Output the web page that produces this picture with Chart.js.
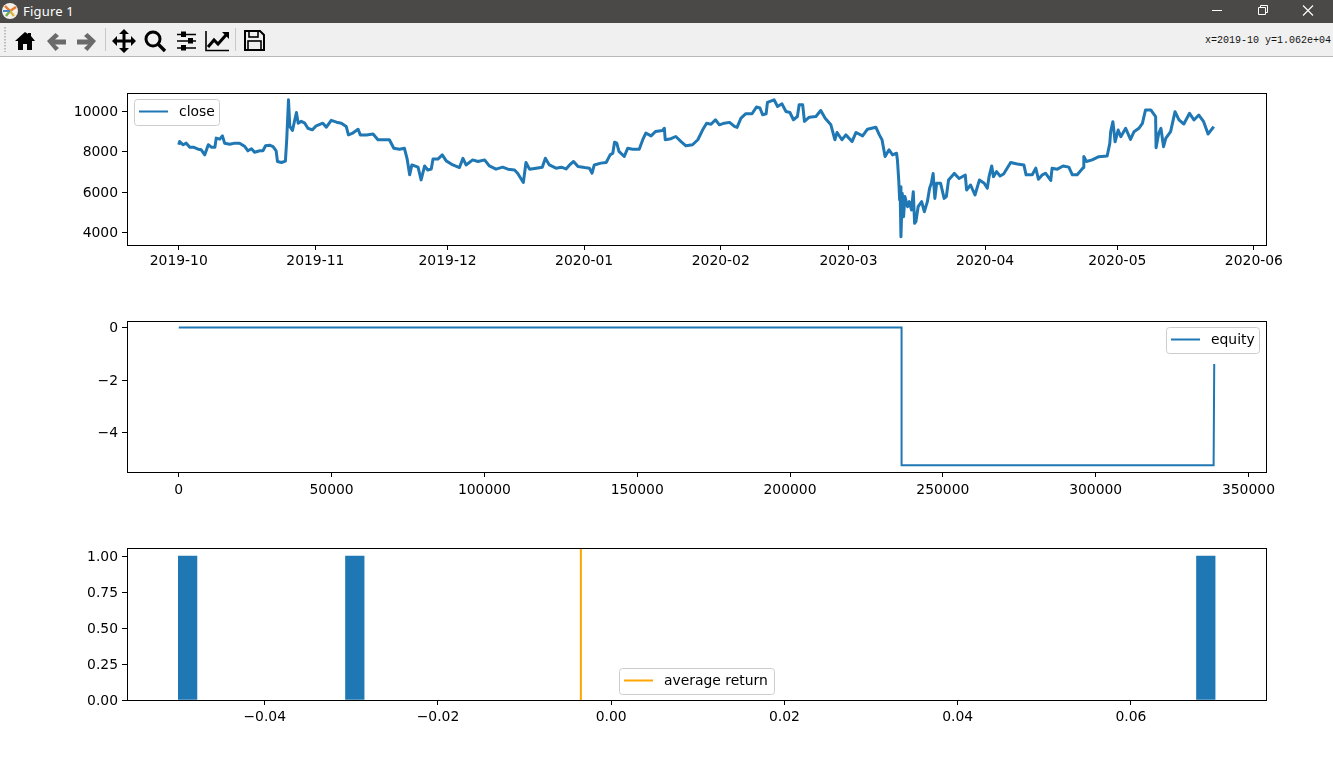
<!DOCTYPE html>
<html><head><meta charset="utf-8"><title>Figure 1</title>
<script src="https://cdn.jsdelivr.net/npm/chart.js@4"></script>
<style>
html,body{margin:0;padding:0;background:#fff;width:1333px;height:768px;overflow:hidden;font-family:"DejaVu Sans",sans-serif}
#title{position:absolute;left:0;top:0;width:1333px;height:23px;background:#4a4948;color:#fff}
#title span{position:absolute;left:23px;top:3px;font:13px/17px "Noto Sans",sans-serif;letter-spacing:.2px}
#tool{position:absolute;left:0;top:23px;width:1333px;height:33px;background:#f0f0f0;border-bottom:1px solid #b9b9b9;box-sizing:content-box}
#coord{position:absolute;right:2px;top:12px;font:10px/12px "Liberation Mono",monospace;color:#111;white-space:pre}
svg{position:absolute;overflow:visible}
canvas{position:absolute;left:0;display:block}
</style></head><body>
<div id="title"><span>Figure 1</span>
<svg style="left:0;top:0" width="1333" height="23">
<circle cx="10" cy="11" r="8" fill="#f4f1ea"/><path d="M10 11L5 6M10 11L16 7" stroke="#e8792b" stroke-width="2.4"/><path d="M10 11L6 16" stroke="#6fae4b" stroke-width="2.4"/><path d="M10 11L14 16" stroke="#d9b53a" stroke-width="2.4"/><path d="M10 11L3 11" stroke="#4a86c5" stroke-width="2"/>
<path d="M1212 10.5H1222" stroke="#fff" fill="none"/>
<path d="M1258.5 7.5h7v7h-7zM1260.5 7.5v-2h7v7h-2" stroke="#fff" fill="none"/>
<path d="M1303 5.5l10 10M1313 5.5l-10 10" stroke="#fff" fill="none" stroke-width="1.1"/>
</svg></div>
<div id="tool"><div id="coord">x=2019-10 y=1.062e+04</div>
<svg style="left:0;top:0" width="1333" height="33">
<path d="M5 4v25" stroke="#bbb" stroke-width="2" stroke-dasharray="1.5 1.5" fill="none"/>
<path d="M105.500 5v23M235.500 5v23" stroke="#c8c8c8" fill="none"/>
<path d="M25 9L15 18h3V27h5v-6h4v6h5V18h3L31 13V10h-3v1z" fill="#000"/>
<path d="M47 18l8.500-8 3.500 3-4 3.500h11v5H55l4 3.500-3.500 3z" fill="#6a6a6a"/>
<path d="M96 18l-8.500-8-3.500 3 4 3.500H77v5h11l-4 3.500 3.500 3z" fill="#6a6a6a"/>
<path d="M124 6l5 5h-3.500v5.500H131V13l5 5-5 5v-3.500h-5.500V25h3.500l-5 5-5-5h3.500v-5.500H117V23l-5-5 5-5v3.500h5.500V11H119z" fill="#000"/>
<circle cx="153" cy="16" r="7" fill="none" stroke="#000" stroke-width="3"/><path d="M158 21l7 7" stroke="#000" stroke-width="3.400" fill="none"/>
<path d="M177 11.500h19M177 18h19M177 25h19" stroke="#000" stroke-width="1.600" fill="none"/><rect x="181" y="8.500" width="5" height="5.500" fill="#000"/><rect x="188" y="15" width="5" height="5.500" fill="#000"/><rect x="181" y="22" width="5" height="5.500" fill="#000"/>
<path d="M206 8V27.500H229" stroke="#000" stroke-width="1.600" fill="none"/><path d="M208 24l6-7 4 4 8-9" stroke="#000" stroke-width="3" fill="none"/><path d="M222 9h7v7z" fill="#000"/>
<path d="M245 8h15l4 4v15h-19z" fill="none" stroke="#000" stroke-width="2"/><rect x="249" y="8" width="9" height="6" fill="none" stroke="#000" stroke-width="1.600"/><rect x="248" y="18" width="13" height="9" fill="none" stroke="#000" stroke-width="1.600"/>
</svg></div>
<canvas id="c1" width="1333" height="220" style="top:60px"></canvas>
<canvas id="c2" width="1333" height="220" style="top:290px"></canvas>
<canvas id="c3" width="1333" height="220" style="top:517px"></canvas>
<script>
// --- close price (days since 2019-10-01) ---
const closeDays=[0,0.2,1,1.7,2.5,3.3,4.4,5.1,5.9,6.7,7.4,8.2,8.5,9.3,9.9,10.4,11.6,12.7,13.8,15,15.7,16.5,17.2,18.4,19.1,19.7,20.6,21.4,22.1,22.4,23.3,24.2,24.5,24.9,25.2,25.8,26.7,27.1,27.8,28.6,29.3,30.3,31.2,32.7,33.5,34.6,35.8,36.9,38,38.5,39.5,40.7,41.2,42.6,44.1,45.2,46.3,47.8,48.8,50.1,51.2,51.8,52.4,52.9,54.3,55,55.8,56.5,57.3,57.7,58.8,59.8,60.7,62.2,63.7,64.5,65.2,66.7,67.9,69.4,70.5,72,73.5,74.7,76.2,76.9,78.2,78.8,79.6,81.1,82.5,83.2,84.1,85.6,86.8,87.9,
88.7,89.6,90.6,92.1,93.2,93.8,94.3,95.8,97,97.9,98.5,98.9,99.4,99.9,101.1,101.9,103,104.5,105.3,106,107.2,108.2,109.8,110.2,110.4,111.7,112.8,114,115.1,116.6,117.8,118.9,119.8,120.8,121.8,122.7,123.8,125,126.1,126.7,127.6,128.7,130.1,131.1,131.9,132.5,133.3,133.6,135.1,135.9,136.9,137.8,138.7,139.5,140.4,140.8,141.6,142,143.1,144.6,145.7,146.7,148,148.9,149.4,150.5,151.4,152.8,153.7,155.2,156.3,158.2,159,159.6,160.3,161.2,162,162.9,
163.1,163.4,163.6,163.7,163.9,164.2,164.5,164.8,165.4,165.8,166.3,166.7,167,167.3,167.8,168.6,169.2,169.9,170.4,170.8,171.2,171.6,172,172.9,173.7,174.2,174.7,176,177.1,178.5,178.8,179.7,180.7,181.7,182.8,183.5,183.9,184.5,184.9,185.6,186.4,187.2,
188.8,190.3,191.8,192.3,193.7,194.5,195.1,196,196.7,197.9,198.2,199.4,200.7,202,202.8,203.9,205.3,205.4,206,207.3,208.8,
210.7,211.3,211.5,212,212.5,213.2,213.8,214.9,216,216.8,217.9,218.7,219.4,220.6,221.7,221.8,222.4,222.9,223.5,224,225.1,226.1,227,228.1,229.4,230.4,231.5,232.6,233.6,234.9];
const closeValues=[8350,8510,8350,8430,8230,8230,8130,8100,7850,8350,8230,8230,8680,8630,8790,8430,8380,8430,8430,8260,8050,8150,7980,8050,8050,8300,8330,8260,8050,7520,7470,7540,8600,10580,9260,9060,9950,9420,9510,9420,9170,9090,9290,9420,9220,9560,9470,9420,9260,8840,8930,9120,8840,8840,8880,8600,8600,8600,8180,8130,8180,7680,6860,7350,7240,6610,7300,7100,7150,7640,7640,7850,7550,7350,7220,7680,7350,7600,7520,7600,7300,7140,7240,7140,7100,6940,6480,7470,7140,7190,7240,7680,7350,7190,7240,7150,
7350,7520,7270,7220,7190,6940,7350,7440,7470,7850,7930,8480,8430,8020,7770,8180,8130,8130,8600,8930,8790,9010,9060,9170,8600,8650,8760,8510,8300,8350,8600,9090,9420,9370,9590,9340,9420,9460,9260,9210,9670,9890,9890,10220,10170,9840,9890,10450,10580,10250,10380,10000,9950,9590,9750,10330,10330,9510,9720,9750,10050,9670,9340,8600,8960,8600,8840,8510,8960,8790,9120,9220,8840,8600,7770,8100,7850,7930,
7595,6600,5610,6270,3790,5940,4785,5780,5280,5530,5115,6025,4455,4540,5280,5530,5030,5530,6190,6440,6930,5690,6440,6440,5690,5780,6600,6930,6680,6850,6110,6355,5860,6600,6440,6190,6770,7300,6770,7020,6800,6900,
7470,7400,7350,6860,6860,7190,6640,6860,6940,6580,7190,7140,7300,7240,6860,6860,7220,7770,7520,7600,7760,
7790,8420,9000,9495,8500,9080,8750,9165,8620,9000,9165,9410,10075,10075,9745,8205,8915,9165,8255,8670,9000,9990,9580,9380,9910,9580,9825,9495,8885,9250];
const monthDays=[0,31,61,92,123,152,183,213,244];
const monthLabels=["2019-10","2019-11","2019-12","2020-01","2020-02","2020-03","2020-04","2020-05","2020-06"];
const closeYTicks=[4000,6000,8000,10000];
const closeYLabels=["4000","6000","8000","10000"];
// --- equity curve ---
const equityX=[0,236500,236500,338600,338800];
const equityY=[0,0,-5.25,-5.25,-1.39];
const equityXTicks=[0,50000,100000,150000,200000,250000,300000,350000];
const equityXLabels=["0","50000","100000","150000","200000","250000","300000","350000"];
const equityYTicks=[-4,-2,0];
const equityYLabels=["\u22124","\u22122","0"];
// --- return histogram ---
const binCenters=[-0.0489,-0.0296,0.06865];
const binCounts=[1,1,1];
const averageReturn=-0.0035;
const returnXTicks=[-0.04,-0.02,0,0.02,0.04,0.06];
const returnXLabels=["\u22120.04","\u22120.02","0.00","0.02","0.04","0.06"];
const returnYTicks=[0,0.25,0.5,0.75,1];
const returnYLabels=["0.00","0.25","0.50","0.75","1.00"];

const BLUE="#1f77b4",ORANGE="orange",FONT='"DejaVu Sans"',FS=13.9;
Chart.defaults.font.family=FONT;Chart.defaults.font.size=FS;Chart.defaults.color="#000";Chart.defaults.animation=false;

function axis(min,max,vals,labels,fit,pad,shift){
  return {type:"linear",min,max,offset:false,
    border:{display:false},
    grid:{display:true,offset:false,drawOnChartArea:false,drawTicks:true,tickLength:5,tickColor:"#000",tickWidth:1},
    afterBuildTicks(s){s.ticks=vals.map(v=>({value:v}));},
    afterFit:fit,
    ticks:{autoSkip:false,maxRotation:0,minRotation:0,padding:pad,labelOffset:shift||0,color:"#000",font:{family:FONT,size:FS},
      callback(v){const i=vals.indexOf(v);return i<0?"":labels[i];}}};
}
function frame(){return {id:"frame",afterDatasetsDraw(c){const a=c.chartArea,x=c.ctx;x.save();x.strokeStyle="#000";x.lineWidth=1;
  x.strokeRect(Math.round(a.left)+.5,Math.round(a.top)+.5,Math.round(a.right-a.left),Math.round(a.bottom-a.top));x.restore();}};}
function legendBox(ds,left,top,w){return {id:"legendBox",afterDraw(c){const x=c.ctx,d=c.data.datasets[ds];x.save();
  x.beginPath();x.roundRect(left+.5,top+.5,w,26,3);x.fillStyle="rgba(255,255,255,.8)";x.fill();x.strokeStyle="#ccc";x.lineWidth=1;x.stroke();
  x.beginPath();x.moveTo(left+5,top+12.5);x.lineTo(left+34,top+12.5);x.strokeStyle=d.borderColor;x.lineWidth=2;x.stroke();
  x.fillStyle="#000";x.font=FS+"px "+FONT;x.textBaseline="middle";x.textAlign="left";x.fillText(d.label,left+45,top+13);x.restore();}};}
function base(top,scales){return {responsive:false,animation:false,events:[],
  layout:{padding:{left:0,right:1333-1266,top,bottom:0}},
  plugins:{legend:{display:false},tooltip:{enabled:false}},scales};}
const wLeft=s=>{s.width=127;};
const hB=h=>s=>{s.height=h;};

new Chart(document.getElementById("c1"),{type:"line",
  data:{datasets:[{label:"close",data:closeDays.map((d,i)=>({x:d,y:closeValues[i]})),borderColor:BLUE,borderWidth:3,pointRadius:0,tension:0,borderJoinStyle:"round"}]},
  options:base(33,{x:axis(-11.75,246.75,monthDays,monthLabels,hB(35),3),y:axis(3380,10917,closeYTicks,closeYLabels,wLeft,4,1)}),
  plugins:[frame(),legendBox(0,134,39,85)]});

new Chart(document.getElementById("c2"),{type:"line",
  data:{datasets:[{label:"equity",data:equityX.map((d,i)=>({x:d,y:equityY[i]})),borderColor:BLUE,borderWidth:2,pointRadius:0,tension:0}]},
  options:base(31,{x:axis(-16940,355740,equityXTicks,equityXLabels,hB(38),5),y:axis(-5.505,0.248,equityYTicks,equityYLabels,wLeft,4,1)}),
  plugins:[frame(),legendBox(0,1166,37,93)]});

new Chart(document.getElementById("c3"),{type:"bar",
  data:{datasets:[
    {type:"bar",label:"returns",data:binCenters.map((d,i)=>({x:d,y:binCounts[i]})),backgroundColor:BLUE,borderWidth:0,barThickness:18.6,order:2},
    {type:"line",label:"average return",data:[{x:averageReturn,y:0},{x:averageReturn,y:1.056}],borderColor:ORANGE,borderWidth:2,pointRadius:0,tension:0,order:1}]},
  options:base(31,{x:axis(-0.0559,0.0756,returnXTicks,returnXLabels,hB(37),4),y:axis(0,1.056,returnYTicks,returnYLabels,wLeft,4,1)}),
  plugins:[frame(),legendBox(1,619,151,155)]});
</script>
</body></html>
